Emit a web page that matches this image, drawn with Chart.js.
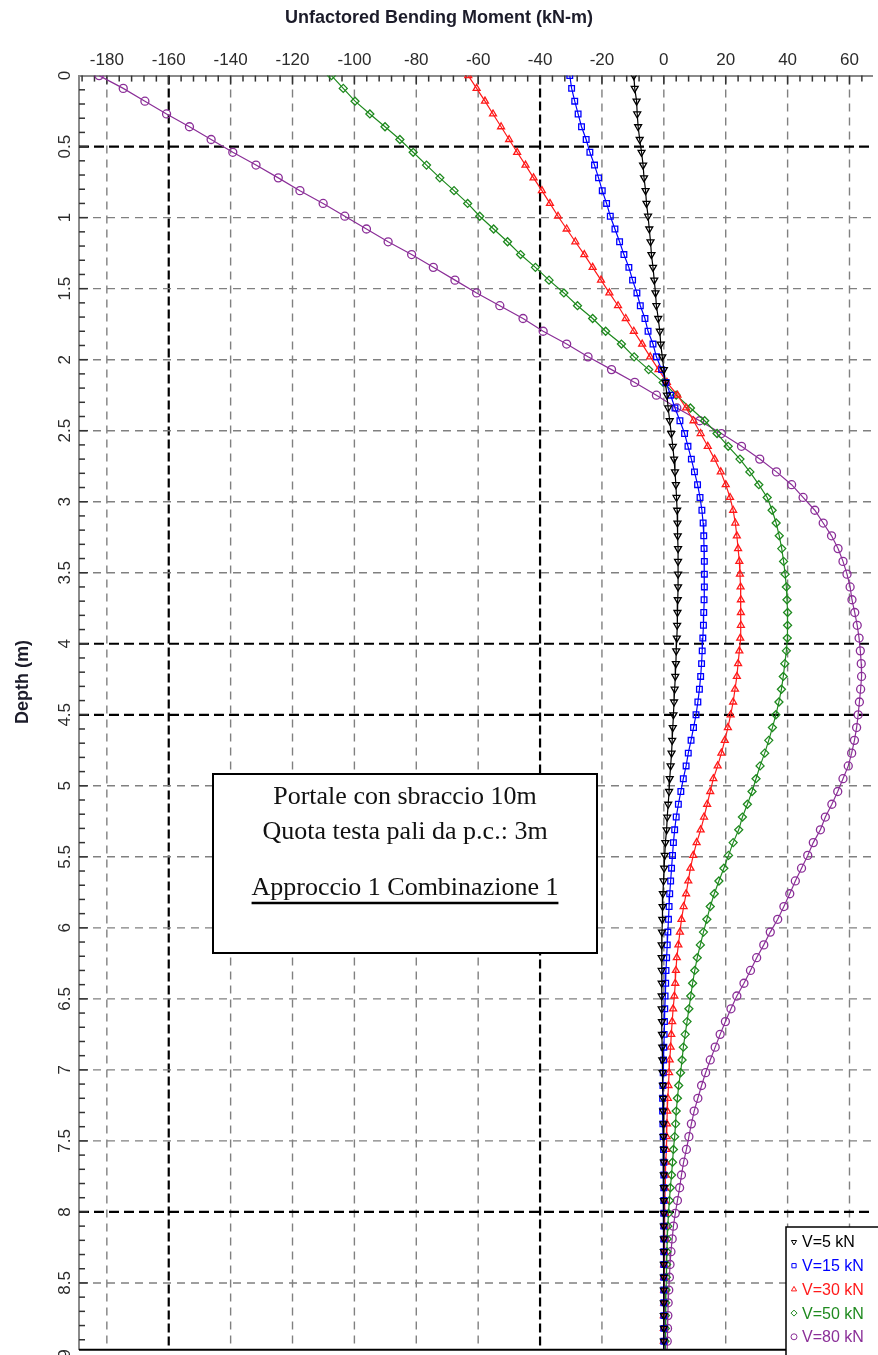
<!DOCTYPE html>
<html>
<head>
<meta charset="utf-8">
<script src="https://cdn.jsdelivr.net/npm/chart.js@4.4.0/dist/chart.umd.min.js"></script>
<style>
  html, body { margin: 0; padding: 0; background: #fff; }
</style>
</head>
<body>
<canvas id="chart" width="878" height="1355"></canvas>
<script>
// depth of each pile node (m)
const depth = [
  0, 0.09, 0.18, 0.27, 0.36, 0.45, 0.54, 0.63, 0.72, 0.81,
  0.9, 0.99, 1.08, 1.17, 1.26, 1.35, 1.44, 1.53, 1.62, 1.71,
  1.8, 1.89, 1.98, 2.07, 2.16, 2.25, 2.34, 2.43, 2.52, 2.61,
  2.7, 2.79, 2.88, 2.97, 3.06, 3.15, 3.24, 3.33, 3.42, 3.51,
  3.6, 3.69, 3.78, 3.87, 3.96, 4.05, 4.14, 4.23, 4.32, 4.41,
  4.5, 4.59, 4.68, 4.77, 4.86, 4.95, 5.04, 5.13, 5.22, 5.31,
  5.4, 5.49, 5.58, 5.67, 5.76, 5.85, 5.94, 6.03, 6.12, 6.21,
  6.3, 6.39, 6.48, 6.57, 6.66, 6.75, 6.84, 6.93, 7.02, 7.11,
  7.2, 7.29, 7.38, 7.47, 7.56, 7.65, 7.74, 7.83, 7.92, 8.01,
  8.1, 8.19, 8.28, 8.37, 8.46, 8.55, 8.64, 8.73, 8.82, 8.91,
  9
];

// bending moment (kN-m) for each horizontal load
const m5 = [
  -9.7, -9.4, -8.8, -8.6, -8.3, -7.8, -7.2, -6.7, -6.4, -5.9,
  -5.6, -5.1, -4.7, -4.3, -4.0, -3.5, -3.1, -2.7, -2.4, -1.8,
  -1.3, -1.0, -0.5, 0.0, 0.5, 1.0, 1.4, 1.9, 2.4, 2.9,
  3.3, 3.6, 3.9, 4.1, 4.3, 4.4, 4.5, 4.6, 4.6, 4.6,
  4.6, 4.5, 4.4, 4.3, 4.2, 4.0, 3.9, 3.7, 3.5, 3.3,
  3.1, 2.9, 2.7, 2.5, 2.2, 1.9, 1.7, 1.4, 1.1, 0.9,
  0.5, 0.3, 0.1, -0.1, -0.3, -0.4, -0.5, -0.6, -0.7, -0.7,
  -0.7, -0.7, -0.7, -0.7, -0.6, -0.6, -0.5, -0.5, -0.4, -0.3,
  -0.2, -0.2, -0.1, -0.1, 0.0, 0.0, 0.0, 0.0, 0.0, 0.0,
  0.0, 0.0, 0.0, 0.0, 0.0, 0.0, 0.0, 0.0, 0.0, 0.0,
  0.0
];
const m15 = [
  -30.4, -29.8, -28.8, -27.7, -26.6, -25.1, -23.9, -22.4, -21.1, -19.9,
  -18.5, -17.3, -15.8, -14.3, -12.9, -11.3, -10.1, -8.7, -7.6, -6.1,
  -5.1, -3.5, -2.4, -0.7, 0.7, 2.2, 3.6, 5.2, 6.7, 7.8,
  8.9, 9.9, 10.9, 11.7, 12.3, 12.7, 12.9, 13.0, 13.1, 13.1,
  13.1, 13.0, 12.9, 12.8, 12.6, 12.4, 12.2, 11.9, 11.5, 11.0,
  10.4, 9.6, 8.8, 7.9, 7.2, 6.3, 5.5, 4.7, 4.0, 3.5,
  3.1, 2.8, 2.5, 2.2, 1.9, 1.7, 1.5, 1.3, 1.1, 0.9,
  0.7, 0.6, 0.4, 0.3, 0.2, 0.1, 0.0, -0.1, -0.2, -0.3,
  -0.4, -0.4, -0.3, -0.2, -0.1, 0.0, 0.0, 0.0, 0.0, 0.0,
  0.0, 0.0, 0.0, 0.0, 0.0, 0.0, 0.0, 0.0, 0.0, 0.0,
  0.0
];
const m30 = [
  -63.2, -60.5, -57.8, -55.2, -52.6, -50.0, -47.4, -44.7, -42.1, -39.4,
  -36.8, -34.2, -31.4, -28.6, -25.7, -23.0, -20.3, -17.6, -14.8, -12.3,
  -9.7, -7.0, -4.4, -1.7, 1.0, 4.4, 7.2, 9.6, 11.9, 14.2,
  16.4, 18.4, 20.0, 21.4, 22.4, 23.1, 23.6, 24.0, 24.4, 24.6,
  24.8, 24.9, 24.9, 24.9, 24.7, 24.4, 24.0, 23.6, 23.0, 22.4,
  21.6, 20.7, 19.7, 18.6, 17.4, 16.0, 15.0, 14.0, 13.0, 11.9,
  10.6, 9.5, 8.6, 7.9, 7.2, 6.4, 5.7, 5.2, 4.7, 4.2,
  3.9, 3.7, 3.4, 3.0, 2.7, 2.4, 2.2, 1.9, 1.7, 1.5,
  1.3, 1.1, 1.0, 0.9, 0.8, 0.6, 0.5, 0.4, 0.3, 0.3,
  0.2, 0.2, 0.2, 0.1, 0.1, 0.1, 0.1, 0.0, 0.0, 0.0,
  0.0
];
const m50 = [
  -107.4, -103.6, -99.8, -95.0, -90.1, -85.3, -81.0, -76.7, -72.4, -67.8,
  -63.4, -59.5, -55.0, -50.5, -46.3, -41.5, -37.1, -32.3, -27.9, -23.0,
  -18.8, -13.7, -9.6, -4.9, -0.2, 4.0, 8.6, 13.2, 17.2, 20.8,
  24.6, 27.8, 30.7, 33.4, 35.0, 36.3, 37.3, 38.1, 38.7, 39.2,
  39.6, 39.8, 40.0, 40.0, 39.9, 39.6, 39.1, 38.6, 38.0, 37.2,
  36.2, 35.1, 33.9, 32.6, 31.1, 29.8, 28.5, 27.0, 25.4, 24.2,
  22.4, 20.9, 19.4, 17.8, 16.3, 15.0, 13.9, 12.8, 11.8, 10.8,
  10.0, 9.3, 8.7, 8.1, 7.5, 6.9, 6.3, 5.9, 5.4, 4.8,
  4.4, 4.0, 3.8, 3.5, 3.1, 2.8, 2.5, 2.1, 1.8, 1.5,
  1.3, 1.1, 1.0, 0.9, 0.8, 0.7, 0.6, 0.5, 0.5, 0.4,
  0.4
];
const m80 = [
  -182.5, -174.7, -167.7, -160.7, -153.3, -146.3, -139.3, -131.8, -124.6, -117.6,
  -110.1, -103.1, -96.1, -89.1, -81.5, -74.5, -67.5, -60.5, -53.0, -45.5,
  -39.0, -31.4, -24.5, -16.9, -9.4, -2.4, 4.2, 11.6, 18.6, 25.1,
  31.0, 36.4, 41.3, 45.0, 48.8, 51.5, 54.2, 56.3, 57.9, 59.2,
  60.2, 60.8, 61.7, 62.5, 63.1, 63.5, 63.8, 63.9, 63.6, 63.2,
  62.8, 62.3, 61.6, 60.7, 59.6, 57.9, 56.2, 54.3, 52.2, 50.6,
  48.3, 46.5, 44.5, 42.5, 40.7, 38.8, 36.8, 34.4, 32.3, 30.0,
  28.0, 25.9, 23.6, 21.7, 19.9, 18.2, 16.6, 15.0, 13.5, 12.2,
  11.0, 9.8, 8.9, 8.1, 7.3, 6.4, 5.7, 5.1, 4.4, 3.7,
  3.1, 2.7, 2.3, 2.0, 1.8, 1.6, 1.4, 1.3, 1.2, 1.1,
  1.0
];

const seriesLabels = ["V=5 kN", "V=15 kN", "V=30 kN", "V=50 kN", "V=80 kN"];
const xTicks = [-180, -160, -140, -120, -100, -80, -60, -40, -20, 0, 20, 40, 60];
const yTicks = [0, 0.5, 1, 1.5, 2, 2.5, 3, 3.5, 4, 4.5, 5, 5.5, 6, 6.5, 7, 7.5, 8, 8.5, 9];
const noteLines = ["Portale con sbraccio 10m", "Quota testa pali da p.c.: 3m", "Approccio 1 Combinazione 1"];

const heavyX = [-160, -40];
const heavyY = [0.5, 4, 4.5, 8];

const styles = [
  { color: "#000000", point: "triangle", rotation: 180 },
  { color: "#0000ff", point: "rect", rotation: 0 },
  { color: "#ff1a1a", point: "triangle", rotation: 0 },
  { color: "#1f8a1f", point: "rectRot", rotation: 0 },
  { color: "#8b2f98", point: "circle", rotation: 0 },
];

const moments = [m5, m15, m30, m50, m80];

const datasets = moments.map((m, i) => ({
  label: seriesLabels[i],
  data: depth.map((d, k) => ({ x: m[k], y: d })),
  showLine: true,
  borderColor: styles[i].color,
  borderWidth: 1.2,
  pointStyle: styles[i].point,
  pointRotation: styles[i].rotation,
  pointRadius: 4,
  pointBorderWidth: 1.3,
  pointBorderColor: styles[i].color,
  pointBackgroundColor: "rgba(255,255,255,0)",
}));

function line(ctx, x1, y1, x2, y2) {
  ctx.beginPath();
  ctx.moveTo(x1, y1);
  ctx.lineTo(x2, y2);
  ctx.stroke();
}

// dashed grid + inward minor ticks
const gridLines = {
  id: "gridLines",
  beforeDatasetsDraw(chart) {
    const { ctx, chartArea: a, scales: { x, y } } = chart;
    ctx.save();
    xTicks.forEach(v => {
      const px = x.getPixelForValue(v);
      const heavy = heavyX.includes(v);
      ctx.setLineDash(heavy ? [9, 4] : [8, 6]);
      ctx.strokeStyle = heavy ? "#000" : "#808080";
      ctx.lineWidth = heavy ? 2.2 : 1.4;
      line(ctx, px, a.top, px, a.bottom);
    });
    yTicks.forEach(v => {
      if (v === 0 || v === 9) return;
      const py = y.getPixelForValue(v);
      const heavy = heavyY.includes(v);
      ctx.setLineDash(heavy ? [10, 5] : [8, 6]);
      ctx.strokeStyle = heavy ? "#000" : "#808080";
      ctx.lineWidth = heavy ? 2.2 : 1.4;
      line(ctx, a.left, py, a.right, py);
    });
    ctx.setLineDash([]);
    ctx.strokeStyle = "#333";
    ctx.lineWidth = 1.5;
    for (let v = -188; v <= 64; v += 4) {
      const px = x.getPixelForValue(v);
      line(ctx, px, a.top, px, a.top + (v % 20 === 0 ? 9 : 6));
    }
    for (let i = 1; i < 90; i++) {
      const py = y.getPixelForValue(i / 10);
      line(ctx, a.left, py, a.left + (i % 5 === 0 ? 9 : 6), py);
    }
    ctx.restore();
  },
};

const extras = {
  id: "extras",
  afterDraw(chart) {
    const { ctx, chartArea: a, scales: { y } } = chart;
    ctx.save();

    // bottom frame
    ctx.strokeStyle = "#000";
    ctx.lineWidth = 2;
    line(ctx, a.left, a.bottom, a.right, a.bottom);

    // rotated depth labels
    ctx.fillStyle = "#2b2b2b";
    ctx.font = "17px 'Liberation Sans', Arial, sans-serif";
    ctx.textAlign = "center";
    ctx.textBaseline = "middle";
    yTicks.forEach(v => {
      const py = y.getPixelForValue(v);
      ctx.save();
      ctx.translate(65, py);
      ctx.rotate(-Math.PI / 2);
      ctx.fillText(String(v), 0, 0);
      ctx.restore();
    });

    // y axis title
    ctx.save();
    ctx.font = "bold 18px 'Liberation Sans', Arial, sans-serif";
    ctx.fillStyle = "#1c1c2a";
    ctx.translate(23, 682);
    ctx.rotate(-Math.PI / 2);
    ctx.fillText("Depth (m)", 0, 0);
    ctx.restore();

    // note box
    ctx.fillStyle = "#fff";
    ctx.fillRect(213, 774, 384, 179);
    ctx.strokeStyle = "#000";
    ctx.lineWidth = 2;
    ctx.strokeRect(213, 774, 384, 179);
    ctx.fillStyle = "#111";
    ctx.font = "26px 'Liberation Serif', 'Times New Roman', serif";
    const cx = 405;
    ctx.fillText(noteLines[0], cx, 797);
    ctx.fillText(noteLines[1], cx, 832);
    ctx.fillText(noteLines[2], cx, 888);
    const w = ctx.measureText(noteLines[2]).width;
    ctx.lineWidth = 2.5;
    line(ctx, cx - w / 2, 903, cx + w / 2, 903);

    // legend box
    ctx.fillStyle = "#fff";
    ctx.fillRect(786, 1227, 100, 130);
    ctx.lineWidth = 1.5;
    ctx.strokeStyle = "#000";
    ctx.strokeRect(786, 1227, 100, 130);
    ctx.font = "16px 'Liberation Sans', Arial, sans-serif";
    ctx.textAlign = "left";
    chart.data.datasets.forEach((ds, i) => {
      const yy = 1242 + i * 23.7;
      ctx.strokeStyle = ds.pointBorderColor;
      ctx.fillStyle = "rgba(255,255,255,0)";
      ctx.lineWidth = 1;
      Chart.helpers.drawPoint(ctx, {
        pointStyle: ds.pointStyle, rotation: ds.pointRotation, radius: 3, borderWidth: 1,
      }, 794, yy);
      ctx.fillStyle = ds.pointBorderColor;
      ctx.fillText(ds.label, 802, yy + 1);
    });
    ctx.restore();
  },
};

new Chart(document.getElementById("chart"), {
  type: "scatter",
  data: { datasets },
  plugins: [gridLines, extras],
  options: {
    responsive: false,
    animation: false,
    layout: { padding: { left: 0, right: 0, top: 0, bottom: 0 } },
    plugins: {
      legend: { display: false },
      tooltip: { enabled: false },
      title: {
        display: true,
        text: "Unfactored Bending Moment (kN-m)",
        color: "#1c1c2a",
        font: { family: "'Liberation Sans', Arial, sans-serif", size: 18, weight: "bold" },
        padding: { top: 7, bottom: 0 },
      },
    },
    scales: {
      x: {
        type: "linear",
        position: "top",
        min: -189,
        max: 67.5,
        afterBuildTicks: s => { s.ticks = xTicks.map(v => ({ value: v })); },
        afterFit: s => { s.height = 47; },
        grid: { drawOnChartArea: false, drawTicks: false },
        border: { color: "#8a8a8a", width: 2 },
        ticks: {
          padding: 5,
          autoSkip: false,
          maxRotation: 0,
          color: "#2b2b2b",
          font: { family: "'Liberation Sans', Arial, sans-serif", size: 17 },
        },
      },
      y: {
        type: "linear",
        reverse: true,
        min: 0,
        max: 8.97,
        afterBuildTicks: s => { s.ticks = yTicks.map(v => ({ value: v })); },
        afterFit: s => { s.width = 79; },
        grid: { drawOnChartArea: false, drawTicks: false },
        border: { color: "#8a8a8a", width: 2 },
        ticks: { display: false },
      },
    },
  },
});
</script>
</body>
</html>
